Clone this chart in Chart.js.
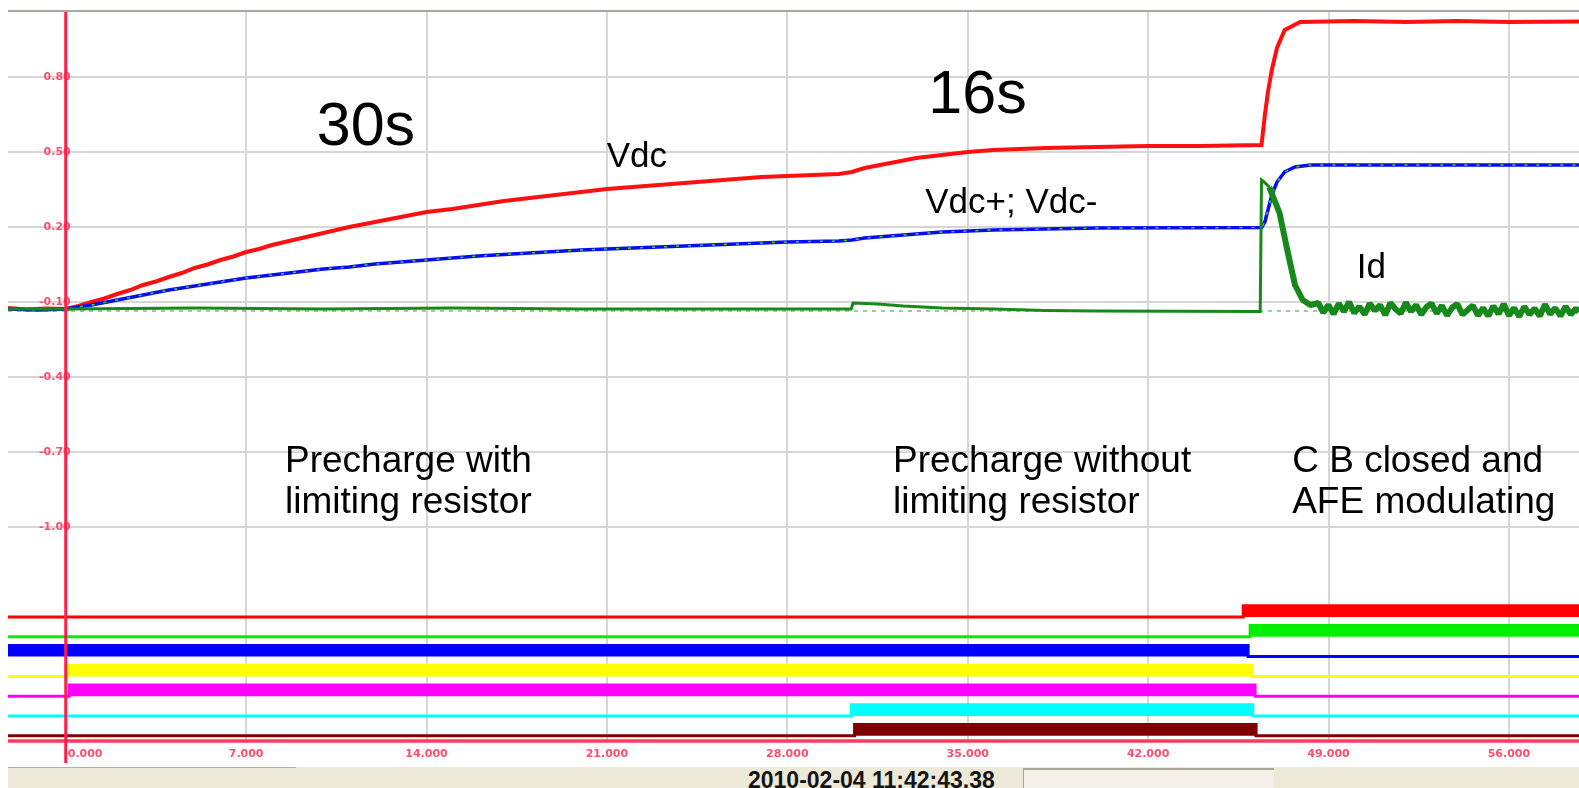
<!DOCTYPE html>
<html>
<head>
<meta charset="utf-8">
<script src="https://cdn.jsdelivr.net/npm/chart.js@4.4.1/dist/chart.umd.min.js"></script>
<style>
  html, body { margin: 0; padding: 0; background: #fff; }
  #wrap { position: relative; width: 1579px; height: 788px; overflow: hidden; }
  #c { position: absolute; left: 0; top: 0; }
  #status { position: absolute; left: 8px; top: 767px; width: 1571px; height: 21px; background: #ece9d8; }
  #status .p1 { position: absolute; left: 0; top: 0; width: 288px; height: 21px; border-top: 1px solid #b3ae9e; box-sizing: border-box; }
  #status .box { position: absolute; left: 1015px; top: 1px; width: 251px; height: 20px; border-top: 2px solid #aaa696; border-left: 1px solid #aaa696; background: #f3f1e9; box-sizing: border-box; }
  #status .date { position: absolute; left: 740px; top: 2px; font: bold 23px "Liberation Sans", Arial, sans-serif; line-height: 23px; color: #151515; white-space: nowrap; }
</style>
</head>
<body>
<div id="wrap">
  <canvas id="c" width="1579" height="767"></canvas>
  <div id="status">
    <div class="p1"></div>
    <div class="date">2010-02-04 11:42:43.38</div>
    <div class="box"></div>
  </div>
</div>
<script>
// 스코프 화면: 아날로그 3채널 + 디지털 7채널
const xTicks = [0, 7, 14, 21, 28, 35, 42, 49, 56];
const yTicks = [0.8, 0.5, 0.2, -0.1, -0.4, -0.7, -1.0];
const X_MIN = -2.24, X_MAX = 58.72, Y_MIN = -1.86, Y_MAX = 1.06;

// Vdc (red) [t, value]
const vdc = [[-2.24,-0.124],[-1.5,-0.130],[-0.8,-0.126],[0,-0.128],[0.5,-0.116],[1,-0.100],[1.5,-0.086],
  [2,-0.068],[2.5,-0.052],[3,-0.032],[3.5,-0.018],[4,0.000],[4.5,0.016],[5,0.036],[5.5,0.050],[6,0.068],
  [6.5,0.082],[7,0.100],[7.5,0.112],[8,0.128],[9,0.152],[10,0.176],[11,0.200],[12,0.220],[13,0.240],
  [14,0.260],[15,0.272],[16,0.288],[17,0.304],[18,0.316],[19,0.328],[20,0.340],[21,0.352],[22,0.360],
  [23,0.368],[24,0.376],[25,0.384],[26,0.392],[27,0.400],[28,0.404],[29,0.408],[30,0.412],[30.5,0.420],
  [31,0.436],[32,0.456],[33,0.476],[34,0.488],[35,0.500],[36,0.508],[37,0.512],[38,0.516],[40,0.520],
  [42,0.524],[44,0.524],[46.4,0.528],[46.53,0.648],[46.65,0.740],[46.8,0.828],[47.0,0.916],[47.3,0.988],
  [47.9,1.020],[50,1.024],[52,1.020],[54,1.024],[56,1.020],[58.72,1.022]];

// Vdc+ / Vdc- (blue)
const vdcPM = [[-2.24,-0.128],[-1,-0.132],[0,-0.128],[1,-0.112],[2,-0.092],[3,-0.072],[4,-0.052],[5,-0.036],
  [6,-0.020],[7,-0.004],[8,0.008],[9,0.020],[10,0.032],[11,0.040],[12,0.052],[13,0.060],[14,0.068],[16,0.084],
  [18,0.096],[20,0.108],[22,0.116],[24,0.124],[26,0.132],[28,0.140],[30,0.144],[30.5,0.148],[31,0.156],
  [32,0.164],[33,0.172],[34,0.180],[35,0.184],[36,0.188],[38,0.192],[40,0.196],[46.4,0.198],[46.53,0.220],
  [46.65,0.268],[46.8,0.328],[47.0,0.380],[47.3,0.420],[47.7,0.440],[48.3,0.448],[58.72,0.448]];

// Id (green): 투입 전 구간
const idCur = [[-2.24,-0.128],[0,-0.128],[5,-0.124],[10,-0.128],[15,-0.124],[20,-0.128],[25,-0.128],
  [30.48,-0.128],[30.55,-0.104],[31.5,-0.108],[32.5,-0.116],[34,-0.124],[36,-0.128],[38,-0.134],[40,-0.136],
  [46.35,-0.138],[46.40,0.388],[46.5,0.380],[46.7,0.360]];
// Id: 스파이크 이후 감쇠 + 노이즈 구간
const idTail = [[46.7,0.360],[46.9,0.308],[47.1,0.256],[47.4,0.108],[47.7,-0.032],[48.0,-0.092],[48.3,-0.112],
  [48.6,-0.104],[48.8,-0.142],[49.0,-0.112],[49.2,-0.148],[49.4,-0.106],[49.6,-0.138],[49.8,-0.100],
  [50.0,-0.144],[50.2,-0.118],[50.4,-0.150],[50.6,-0.106],[50.8,-0.134],[51.0,-0.112],[51.2,-0.152],
  [51.4,-0.104],[51.6,-0.128],[51.8,-0.146],[52.0,-0.102],[52.2,-0.138],[52.4,-0.112],[52.6,-0.150],
  [52.8,-0.120],[53.0,-0.106],[53.2,-0.146],[53.4,-0.114],[53.6,-0.154],[53.8,-0.122],[54.0,-0.108],
  [54.2,-0.150],[54.4,-0.132],[54.6,-0.114],[54.8,-0.154],[55.0,-0.124],[55.2,-0.156],[55.4,-0.116],
  [55.6,-0.148],[55.8,-0.108],[56.0,-0.154],[56.2,-0.124],[56.4,-0.158],[56.6,-0.118],[56.8,-0.150],
  [57.0,-0.126],[57.2,-0.156],[57.4,-0.110],[57.6,-0.148],[57.8,-0.124],[58.0,-0.156],[58.2,-0.118],
  [58.4,-0.150],[58.6,-0.126],[58.72,-0.140]];
const ID_ZERO = -0.136;

// 디지털 채널 [t, state]
const dRed     = [[-2.24,0],[45.69,1],[58.72,1]];
const dGreen   = [[-2.24,0],[45.96,1],[58.72,1]];
const dBlue    = [[-2.24,1],[45.88,0],[58.72,0]];
const dYellow  = [[-2.24,0],[0.04,1],[46.02,0],[58.72,0]];
const dMagenta = [[-2.24,0],[0.14,1],[46.15,0],[58.72,0]];
const dCyan    = [[-2.24,0],[30.48,1],[46.06,0],[58.72,0]];
const dDarkRed = [[-2.24,0],[30.61,1],[46.19,0],[58.72,0]];

const notes = [
  { text: "30s", t: 9.74, v: 0.528, size: 61 },
  { text: "16s", t: 33.47, v: 0.655, size: 61 },
  { text: "Vdc", t: 20.99, v: 0.441, size: 35 },
  { text: "Vdc+; Vdc-", t: 33.35, v: 0.255, size: 35 },
  { text: "Id", t: 50.10, v: -0.005, size: 35 },
  { text: "Precharge with", t: 8.51, v: -0.779, size: 37 },
  { text: "limiting resistor", t: 8.51, v: -0.945, size: 37 },
  { text: "Precharge without", t: 32.10, v: -0.779, size: 37 },
  { text: "limiting resistor", t: 32.10, v: -0.945, size: 37 },
  { text: "C B closed and", t: 47.59, v: -0.779, size: 37 },
  { text: "AFE modulating", t: 47.59, v: -0.945, size: 37 },
];

const pts = (arr) => arr.map((p) => ({ x: p[0], y: p[1] }));

function analog(data, color, width, extra) {
  return Object.assign({
    data: pts(data), borderColor: color, borderWidth: width,
    pointRadius: 0, tension: 0, fill: false, yAxisID: "y",
  }, extra || {});
}

// 레인 배치 (yd 축 1단위 = 20px)
const LANE_TOP = 6.25, LANE_GAP = 0.99, HIGH = 0.56;
function digital(arr, k, color) {
  const base = LANE_TOP - k * LANE_GAP;
  return {
    data: arr.map((p) => ({ x: p[0], y: base + p[1] * HIGH })),
    borderColor: color, backgroundColor: color, borderWidth: 3,
    pointRadius: 0, stepped: true, fill: { value: base }, yAxisID: "yd",
  };
}

const decor = {
  id: "decor",
  afterDatasetsDraw(chart) {
    const { ctx, chartArea: a, scales } = chart;
    const x = scales.x, y = scales.y;
    const x0 = x.getPixelForValue(0);
    ctx.save();

    ctx.font = "bold 11px 'DejaVu Sans'";
    ctx.fillStyle = "#ff4d6d";
    ctx.textBaseline = "middle";
    ctx.textAlign = "right";
    yTicks.forEach((v) => ctx.fillText(v.toFixed(2), x0 + 5, y.getPixelForValue(v)));
    xTicks.forEach((v) => {
      const px = x.getPixelForValue(v);
      ctx.textAlign = v === 0 ? "left" : "center";
      ctx.fillText(v.toFixed(3), v === 0 ? px + 2 : px, a.bottom + 12);
    });

    // 텍스트 주석
    ctx.fillStyle = "#000";
    ctx.textAlign = "left";
    ctx.textBaseline = "alphabetic";
    notes.forEach((n) => {
      ctx.font = n.size + "px 'Liberation Sans', Arial, sans-serif";
      ctx.fillText(n.text, x.getPixelForValue(n.t), y.getPixelForValue(n.v));
    });

    // 테두리 / 축
    ctx.strokeStyle = "#aba79b"; ctx.lineWidth = 2;
    ctx.beginPath(); ctx.moveTo(a.left, a.top - 1); ctx.lineTo(a.right, a.top - 1); ctx.stroke();
    ctx.strokeStyle = "#ff3a5c"; ctx.lineWidth = 3.5;
    ctx.beginPath(); ctx.moveTo(a.left, a.bottom - 1); ctx.lineTo(a.right, a.bottom - 1); ctx.stroke();
    ctx.strokeStyle = "#ff1f4b"; ctx.lineWidth = 3;
    ctx.beginPath(); ctx.moveTo(x0, a.top); ctx.lineTo(x0, a.bottom + 21); ctx.stroke();
    ctx.restore();
  },
};

new Chart(document.getElementById("c"), {
  type: "line",
  data: {
    datasets: [
      analog(idTail, "#17891a", 6, { borderJoinStyle: "bevel" }),
      analog(idCur, "#17891a", 3),
      analog(vdcPM, "#3fd23f", 1.5, { borderDash: [3, 9] }),
      analog(vdcPM, "#0a0af5", 3.5),
      analog(vdc, "#ff1010", 4),
      analog([[X_MIN, ID_ZERO], [X_MAX, ID_ZERO]], "#3a9a3a", 1.2, { borderDash: [4, 5] }),
      digital(dRed, 0, "#ff0000"),
      digital(dGreen, 1, "#00f000"),
      digital(dBlue, 2, "#0000ff"),
      digital(dYellow, 3, "#ffff00"),
      digital(dMagenta, 4, "#ff00ff"),
      digital(dCyan, 5, "#00ffff"),
      digital(dDarkRed, 6, "#800000"),
    ],
  },
  options: {
    responsive: false,
    animation: false,
    layout: { padding: { left: 8, top: 12, right: 0, bottom: 25 } },
    plugins: { legend: { display: false }, tooltip: { enabled: false } },
    scales: {
      x: {
        type: "linear", min: X_MIN, max: X_MAX,
        afterBuildTicks: (s) => { s.ticks = xTicks.map((v) => ({ value: v })); },
        ticks: { display: false },
        grid: { color: "#d6d6d6", lineWidth: 2, drawTicks: false },
        border: { display: false },
      },
      y: {
        type: "linear", min: Y_MIN, max: Y_MAX,
        afterBuildTicks: (s) => { s.ticks = yTicks.map((v) => ({ value: v })); },
        ticks: { display: false },
        grid: { color: "#d6d6d6", lineWidth: 2, drawTicks: false },
        border: { display: false },
      },
      yd: { type: "linear", min: 0, max: 36.5, display: false },
    },
  },
  plugins: [decor],
});
</script>
</body>
</html>
